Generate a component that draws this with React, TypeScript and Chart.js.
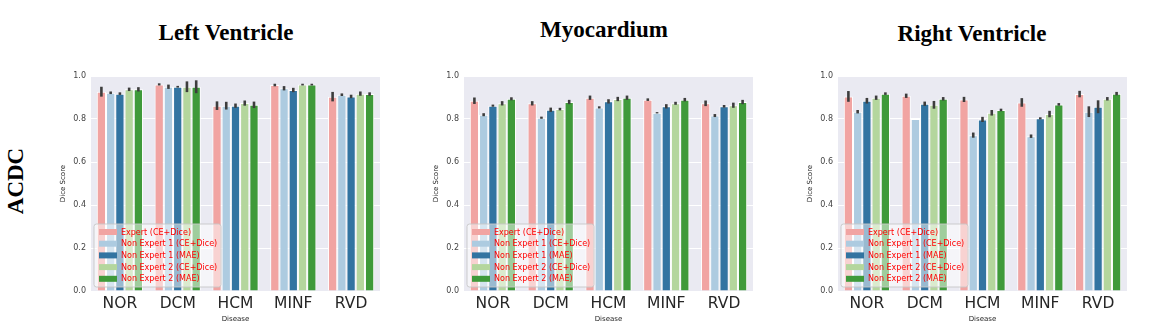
import React, { useEffect, useRef } from "react";
import { Chart, registerables } from "chart.js";

Chart.register(...registerables);

const categories = ["NOR", "DCM", "HCM", "MINF", "RVD"];
const seriesNames = [
  "Expert (CE+Dice)",
  "Non Expert 1 (CE+Dice)",
  "Non Expert 1 (MAE)",
  "Non Expert 2 (CE+Dice)",
  "Non Expert 2 (MAE)",
];
const seriesColors = ["#f1a4a2", "#adcbe0", "#3274a1", "#b4d69d", "#3f9a3a"];
const yTicks = [0, 0.2, 0.4, 0.6, 0.8, 1.0];

// Left Ventricle
const lvExpert = [0.927, 0.961, 0.862, 0.958, 0.904];
const lvNe1Ce = [0.922, 0.95, 0.862, 0.943, 0.913];
const lvNe1Mae = [0.918, 0.95, 0.862, 0.935, 0.905];
const lvNe2Ce = [0.938, 0.95, 0.874, 0.96, 0.918];
const lvNe2Mae = [0.938, 0.95, 0.866, 0.96, 0.916];
const lvExpertErr = [0.023, 0.005, 0.02, 0.006, 0.022];
const lvNe1CeErr = [0.006, 0.01, 0.018, 0.01, 0.006];
const lvNe1MaeErr = [0.006, 0.004, 0.01, 0.01, 0.008];
const lvNe2CeErr = [0.008, 0.025, 0.012, 0.004, 0.01];
const lvNe2MaeErr = [0.01, 0.03, 0.015, 0.004, 0.008];

// Myocardium
const myoExpert = [0.885, 0.873, 0.899, 0.89, 0.873];
const myoNe1Ce = [0.82, 0.806, 0.854, 0.829, 0.816];
const myoNe1Mae = [0.862, 0.843, 0.882, 0.859, 0.859];
const myoNe2Ce = [0.873, 0.846, 0.893, 0.873, 0.864];
const myoNe2Mae = [0.894, 0.879, 0.899, 0.89, 0.879];
const myoExpertErr = [0.015, 0.01, 0.01, 0.006, 0.013];
const myoNe1CeErr = [0.007, 0.005, 0.005, 0.003, 0.007];
const myoNe1MaeErr = [0.005, 0.01, 0.01, 0.01, 0.006];
const myoNe2CeErr = [0.01, 0.006, 0.01, 0.007, 0.012];
const myoNe2MaeErr = [0.007, 0.01, 0.01, 0.008, 0.01];

// Right Ventricle
const rvExpert = [0.905, 0.908, 0.891, 0.877, 0.916];
const rvNe1Ce = [0.834, 0.8, 0.725, 0.72, 0.834];
const rvNe1Mae = [0.885, 0.871, 0.798, 0.803, 0.857];
const rvNe2Ce = [0.899, 0.866, 0.829, 0.823, 0.894];
const rvNe2Mae = [0.918, 0.894, 0.842, 0.868, 0.918];
const rvExpertErr = [0.025, 0.01, 0.012, 0.02, 0.015];
const rvNe1CeErr = [0.008, 0, 0.012, 0.008, 0.025];
const rvNe1MaeErr = [0.013, 0.01, 0.012, 0.005, 0.03];
const rvNe2CeErr = [0.01, 0.018, 0.013, 0.015, 0.008];
const rvNe2MaeErr = [0.006, 0.008, 0.006, 0.006, 0.008];

const panels = [
  {
    title: "Left Ventricle",
    titleX: 226,
    titleY: 33,
    canvasLeft: 50,
    values: [lvExpert, lvNe1Ce, lvNe1Mae, lvNe2Ce, lvNe2Mae],
    errors: [lvExpertErr, lvNe1CeErr, lvNe1MaeErr, lvNe2CeErr, lvNe2MaeErr],
  },
  {
    title: "Myocardium",
    titleX: 604,
    titleY: 30,
    canvasLeft: 423,
    values: [myoExpert, myoNe1Ce, myoNe1Mae, myoNe2Ce, myoNe2Mae],
    errors: [myoExpertErr, myoNe1CeErr, myoNe1MaeErr, myoNe2CeErr, myoNe2MaeErr],
  },
  {
    title: "Right Ventricle",
    titleX: 972,
    titleY: 34,
    canvasLeft: 797,
    values: [rvExpert, rvNe1Ce, rvNe1Mae, rvNe2Ce, rvNe2Mae],
    errors: [rvExpertErr, rvNe1CeErr, rvNe1MaeErr, rvNe2CeErr, rvNe2MaeErr],
  },
];

const CANVAS_TOP = 66;
const CANVAS_W = 335;
const CANVAS_H = 257;

function makePlugins(errors: number[][]) {
  const bgPlugin = {
    id: "bgPlugin",
    beforeDraw(chart: any) {
      const { ctx, chartArea } = chart;
      ctx.save();
      ctx.fillStyle = "#eaeaf2";
      ctx.fillRect(chartArea.left, chartArea.top, chartArea.right - chartArea.left, chartArea.bottom - chartArea.top);
      ctx.restore();
    },
  };
  const errPlugin = {
    id: "errPlugin",
    afterDatasetsDraw(chart: any) {
      const { ctx } = chart;
      const yScale = chart.scales.y;
      ctx.save();
      ctx.strokeStyle = "#3d3d3d";
      ctx.lineWidth = 2.6;
      ctx.lineCap = "butt";
      chart.data.datasets.forEach((ds: any, di: number) => {
        const meta = chart.getDatasetMeta(di);
        meta.data.forEach((bar: any, i: number) => {
          const v = ds.data[i];
          const e = errors[di][i];
          if (!e) return;
          const y1 = yScale.getPixelForValue(v - e);
          const y2 = yScale.getPixelForValue(v + e);
          ctx.beginPath();
          ctx.moveTo(bar.x, y1);
          ctx.lineTo(bar.x, y2);
          ctx.stroke();
        });
      });
      ctx.restore();
    },
  };
  const legendPlugin = {
    id: "boxLegend",
    afterDraw(chart: any) {
      const { ctx, chartArea } = chart;
      const w = 127;
      const h = 63;
      const x = chartArea.left + 3;
      const y = chartArea.bottom - 4 - h;
      ctx.save();
      ctx.beginPath();
      const r = 2.5;
      ctx.moveTo(x + r, y);
      ctx.lineTo(x + w - r, y);
      ctx.arcTo(x + w, y, x + w, y + r, r);
      ctx.lineTo(x + w, y + h - r);
      ctx.arcTo(x + w, y + h, x + w - r, y + h, r);
      ctx.lineTo(x + r, y + h);
      ctx.arcTo(x, y + h, x, y + h - r, r);
      ctx.lineTo(x, y + r);
      ctx.arcTo(x, y, x + r, y, r);
      ctx.closePath();
      ctx.fillStyle = "rgba(255,255,255,0.5)";
      ctx.fill();
      ctx.strokeStyle = "rgba(200,200,200,0.9)";
      ctx.lineWidth = 1;
      ctx.stroke();
      ctx.font = "8px 'DejaVu Sans'";
      ctx.textBaseline = "middle";
      ctx.textAlign = "left";
      seriesNames.forEach((name, i) => {
        const cy = y + 8 + i * 11.7;
        ctx.fillStyle = seriesColors[i];
        ctx.fillRect(x + 5, cy - 3, 18, 6);
        ctx.fillStyle = "#ff0000";
        ctx.fillText(name, x + 27, cy + 0.5);
      });
      ctx.restore();
    },
  };
  return [bgPlugin, errPlugin, legendPlugin];
}

function Panel({ values, errors, left }: { values: number[][]; errors: number[][]; left: number }) {
  const ref = useRef<HTMLCanvasElement | null>(null);
  useEffect(() => {
    if (!ref.current) return;
    const chart = new Chart(ref.current, {
      type: "bar",
      data: {
        labels: categories,
        datasets: seriesNames.map((name, i) => ({
          label: name,
          data: values[i],
          backgroundColor: seriesColors[i],
          borderColor: "#ffffff",
          borderWidth: 1,
          categoryPercentage: 0.8,
          barPercentage: 1.0,
        })),
      },
      options: {
        animation: false,
        responsive: false,
        maintainAspectRatio: false,
        layout: { padding: { left: 0, right: 5, top: 10, bottom: 0 } },
        plugins: { legend: { display: false }, tooltip: { enabled: false }, title: { display: false } },
        scales: {
          x: {
            grid: { display: false, drawTicks: false },
            border: { display: false },
            ticks: { color: "#262626", font: { family: "'DejaVu Sans'", size: 15.5 }, padding: 4 },
            title: {
              display: true,
              text: "Disease",
              color: "#262626",
              font: { family: "'DejaVu Sans'", size: 7 },
              padding: { top: 0, bottom: 0 },
            },
            afterFit: (s: any) => {
              s.height = 32;
            },
          },
          y: {
            min: 0,
            max: 1,
            grid: { color: "#ffffff", lineWidth: 1, drawTicks: false },
            border: { display: false },
            afterBuildTicks: (s: any) => {
              s.ticks = yTicks.map((v) => ({ value: v }));
            },
            ticks: {
              color: "#444444",
              font: { family: "'DejaVu Sans'", size: 8 },
              padding: 5,
              callback: (v: any) => Number(v).toFixed(1),
            },
            title: {
              display: true,
              text: "Dice Score",
              color: "#262626",
              font: { family: "'DejaVu Sans'", size: 7 },
              padding: { top: 9, bottom: 4 },
            },
            afterFit: (s: any) => {
              s.width = 41;
            },
          },
        },
      },
      plugins: makePlugins(errors),
    } as any);
    return () => chart.destroy();
  }, []);
  return (
    <canvas
      ref={ref}
      width={CANVAS_W}
      height={CANVAS_H}
      style={{ position: "absolute", left, top: CANVAS_TOP, width: CANVAS_W, height: CANVAS_H }}
    />
  );
}

export default function App() {
  return (
    <div style={{ position: "fixed", left: 0, top: 0, width: 1165, height: 323, background: "#ffffff", overflow: "hidden" }}>
      {panels.map((p, i) => (
        <div
          key={"t" + i}
          style={{
            position: "absolute",
            left: p.titleX - 150,
            top: p.titleY - 13,
            width: 300,
            height: 26,
            lineHeight: "26px",
            textAlign: "center",
            fontFamily: "'Liberation Serif', serif",
            fontWeight: "bold",
            fontSize: 23,
            color: "#000",
          }}
        >
          {p.title}
        </div>
      ))}
      <div
        style={{
          position: "absolute",
          left: 16 - 50,
          top: 181 - 13,
          width: 100,
          height: 26,
          lineHeight: "26px",
          textAlign: "center",
          fontFamily: "'Liberation Serif', serif",
          fontWeight: "bold",
          fontSize: 23,
          color: "#000",
          transform: "rotate(-90deg)",
        }}
      >
        ACDC
      </div>
      {panels.map((p, i) => (
        <Panel key={"p" + i} values={p.values} errors={p.errors} left={p.canvasLeft} />
      ))}
    </div>
  );
}
